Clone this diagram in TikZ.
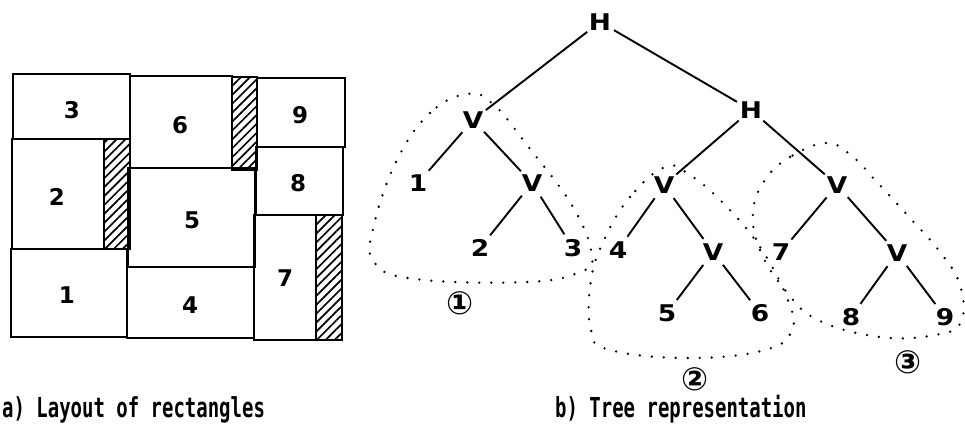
\documentclass[tikz,border=0pt]{standalone}
\usepackage{fontspec}
\usetikzlibrary{patterns.meta}
\newfontfamily\treefont[FakeStretch=1.15]{DejaVu Sans Bold}
\newfontfamily\cellfont{DejaVu Sans Bold}
\newfontfamily\capfont[FakeStretch=0.69]{DejaVu Sans Mono Bold}
\newfontfamily\ringfont{DejaVu Sans Bold}

\begin{document}
\begin{tikzpicture}[x=1pt,y=-1pt,
  cell/.style={draw, line width=2.2pt},
  hatch/.style={draw, line width=2.2pt,
    pattern={Lines[angle=45,distance=6.3pt,line width=1.7pt]}},
  cellnum/.style={inner sep=0pt, font=\cellfont\fontsize{23}{23}\selectfont},
  tn/.style={circle, minimum size=32pt, inner sep=0pt,
    font=\treefont\fontsize{23}{23}\selectfont},
  branch/.style={line width=1.9pt},
  group/.style={line width=2.6pt, line cap=round, dash pattern=on 0pt off 12pt},
  ring/.style={inner sep=0pt, text depth=0pt, font=\ringfont\fontsize{32}{32}\selectfont},
  caption/.style={anchor=base west, inner sep=0pt,
    font=\capfont\fontsize{27.5}{27.5}\selectfont}]
\useasboundingbox (0,0) rectangle (965,434);

% ---- a) slicing layout of the rectangles ----
% left column
\draw[cell] (13,74) rectangle (130,139);
\draw[cell] (12,139) rectangle (104,249);
\draw[hatch] (104,139) rectangle (130,249);
\draw[cell] (11,249) rectangle (127,337);
% middle column
\draw[cell] (130,76) rectangle (232,168);
\draw[hatch] (232,77) rectangle (257,170);
\draw[cell] (128,168) rectangle (255,267);
\draw[cell] (127,267) rectangle (254,338);
% right column
\draw[cell] (257,78) rectangle (345,147);
\draw[cell] (256,147) rectangle (343,215);
\draw[cell] (254,215) rectangle (316,340);
\draw[hatch] (316,215) rectangle (342,340);

\node[cellnum] (c3) at (72,110) {3};
\node[cellnum] (c6) at (180,125) {6};
\node[cellnum] (c9) at (300,115) {9};
\node[cellnum] (c2) at (57,197) {2};
\node[cellnum] (c5) at (192,220) {5};
\node[cellnum] (c8) at (298,183) {8};
\node[cellnum] (c1) at (67,295) {1};
\node[cellnum] (c4) at (190,305) {4};
\node[cellnum] (c7) at (285,278) {7};

% ---- b) slicing tree ----
\node[tn] (H0) at (600,22) {H};
\node[tn] (V1) at (473,120) {V};
\node[tn] (H2) at (751,110) {H};
\node[tn] (t1) at (418,183) {1};
\node[tn] (V2) at (532,183) {V};
\node[tn] (V3) at (664,185) {V};
\node[tn] (V4) at (837,185) {V};
\node[tn] (t2) at (480,248) {2};
\node[tn] (t3) at (573,248) {3};
\node[tn] (t4) at (618,250) {4};
\node[tn] (V5) at (713,252) {V};
\node[tn] (t7) at (781,252) {7};
\node[tn] (V6) at (897,253) {V};
\node[tn] (t5) at (667,313) {5};
\node[tn] (t6) at (760,313) {6};
\node[tn] (t8) at (851,317) {8};
\node[tn] (t9) at (945,317) {9};

\draw[branch] (H0) -- (V1);
\draw[branch] (H0) -- (H2);
\draw[branch] (V1) -- (t1);
\draw[branch] (V1) -- (V2);
\draw[branch] (V2) -- (t2);
\draw[branch] (V2) -- (t3);
\draw[branch] (H2) -- (V3);
\draw[branch] (H2) -- (V4);
\draw[branch] (V3) -- (t4);
\draw[branch] (V3) -- (V5);
\draw[branch] (V5) -- (t5);
\draw[branch] (V5) -- (t6);
\draw[branch] (V4) -- (t7);
\draw[branch] (V4) -- (V6);
\draw[branch] (V6) -- (t8);
\draw[branch] (V6) -- (t9);

% dotted outlines of the three sub-trees
\draw[group] plot[smooth cycle, tension=0.7] coordinates {
  (467,94) (430,113) (397,160) (374,225) (374,262) (415,279)
  (527,282) (580,272) (592,256) (573,207) (527,145) (493,104)};
\draw[group] plot[smooth cycle, tension=0.7] coordinates {
  (665,167) (630,197) (605,238) (591,280) (591,330) (610,350)
  (690,358) (765,350) (792,330) (787,298) (760,247) (725,205) (690,175)};
\draw[group] plot[smooth cycle, tension=0.7] coordinates {
  (827,143) (790,157) (765,180) (753,212) (760,250) (785,290)
  (818,320) (880,337) (935,335) (961,322) (960,285) (940,252)
  (910,218) (875,180) (853,157)};

\node[ring] (r1) at (460,303) {①};
\node[ring] (r2) at (695,379) {②};
\node[ring] (r3) at (908,362) {③};

% captions
\node[caption] (capa) at (2,417) {a) Layout of rectangles};
\node[caption] (capb) at (555,417) {b) Tree representation};
\end{tikzpicture}
\end{document}
